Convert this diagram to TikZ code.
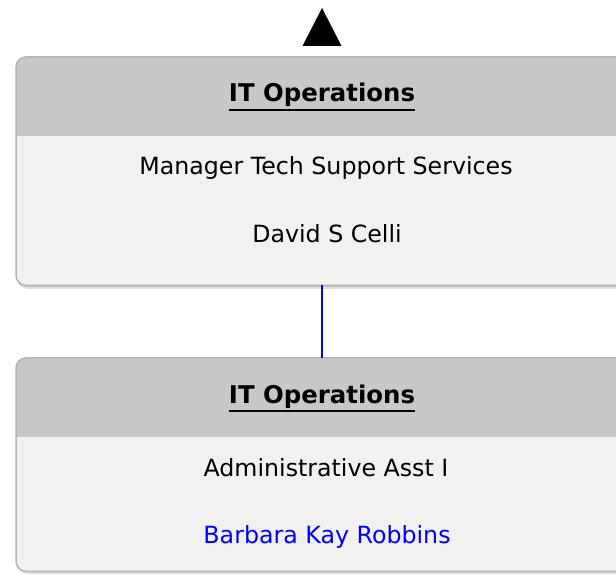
\documentclass[tikz,border=0pt]{standalone}
\usepackage{fontspec}
\setmainfont{DejaVu Sans}
\definecolor{headgray}{HTML}{C8C8C8}
\definecolor{bodygray}{HTML}{F1F1F1}
\definecolor{bordergray}{HTML}{B4B4B4}
\definecolor{linkblue}{HTML}{0000FF}
\newcommand{\ulbox}[1]{\leavevmode\vtop{\hbox{#1}\kern2.2pt\hrule height 1.8pt}}
\tikzset{
  card/.style={rectangle, fill=bodygray, rounded corners=10pt, inner sep=0pt,
               minimum width=624pt, anchor=north west},
  cardborder/.style={draw=bordergray, line width=1.5pt, rounded corners=10pt},
  cardshadow/.style={fill=black, opacity=0.12, rounded corners=11pt},
  headtxt/.style={font=\fontsize{24.4}{29}\selectfont\bfseries, inner sep=0pt, anchor=base},
  bodytxt/.style={font=\fontsize{23.7}{28}\selectfont, inner sep=0pt, anchor=base},
  conn/.style={draw=linkblue, line width=1.8pt},
}
\begin{document}
\begin{tikzpicture}[x=1pt,y=-1pt]
\useasboundingbox (0,0) rectangle (616,577);
\clip (0,0) rectangle (616,577);
% top pointer
\coordinate (up) at (322,8);
\fill[black] (up) -- ++(19.5,38) -- ++(-39,0) -- cycle;
% card 1
\fill[cardshadow] (17,59) rectangle (642,289);
\fill[cardshadow] (16,58) rectangle (641,287);
\node[card, minimum height=228pt] (card1) at (16,57) {};
\begin{scope}
  \clip[rounded corners=10pt] (card1.north west) rectangle (card1.south east);
  \fill[headgray] (card1.north west) rectangle ([yshift=-79pt]card1.north east);
\end{scope}
\draw[cardborder] (card1.north west) rectangle (card1.south east);
\node[headtxt] (h1) at (322,102) {\ulbox{IT Operations}};
\node[bodytxt] (r1) at (326,175) {Manager Tech Support Services};
\node[bodytxt] (n1) at (327,243) {David S Celli};
% card 2
\fill[cardshadow] (17,360) rectangle (642,574);
\fill[cardshadow] (16,359) rectangle (641,572);
\node[card, minimum height=213pt] (card2) at (16,358) {};
\begin{scope}
  \clip[rounded corners=10pt] (card2.north west) rectangle (card2.south east);
  \fill[headgray] (card2.north west) rectangle ([yshift=-79pt]card2.north east);
\end{scope}
\draw[cardborder] (card2.north west) rectangle (card2.south east);
\node[headtxt] (h2) at (322,403) {\ulbox{IT Operations}};
\node[bodytxt] (r2) at (326,476) {Administrative Asst I};
\node[bodytxt, text=linkblue] (n2) at (327,543) {Barbara Kay Robbins};
% connector
\draw[conn] (card1.south -| up) -- (card2.north -| up);
\end{tikzpicture}
\end{document}
